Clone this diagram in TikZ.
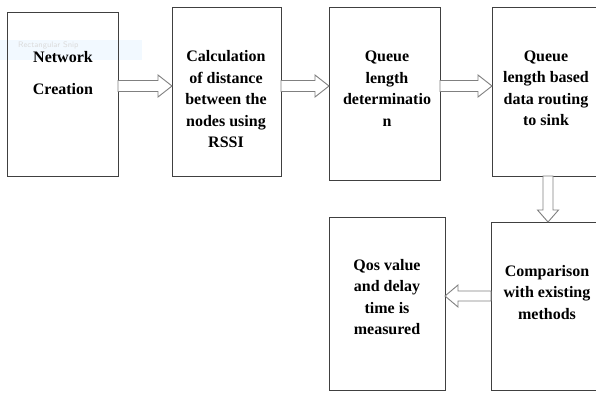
\documentclass[tikz,border=0pt]{standalone}
\usepackage{fontspec}
\setmainfont{Liberation Serif}
\usetikzlibrary{calc}
\begin{document}
\begin{tikzpicture}[x=1pt,y=-1pt,
  stagebox/.style={draw=black!75,line width=0.9pt,fill=none},
  stagetext/.style={align=center,font=\bfseries\fontsize{16}{21.5}\selectfont,text=black},
  flowarrow/.style={draw=black!50,line width=0.9pt,fill=white,line join=miter}]
\useasboundingbox (0,0) rectangle (596,392);
\fill[white] (0,0) rectangle (596,392);

% faint selection strip behind the first box
\fill[blue!40!cyan,opacity=0.05] (0,40) rectangle (142,60);
\node[font=\sffamily\fontsize{8}{9}\selectfont,text=black!14,anchor=west,inner sep=0pt] (snip) at (18,45) {Rectangular Snip};

% stage boxes
\draw[stagebox] (7,12) rectangle (118,176);
\coordinate (b1e) at (118,94);
\draw[stagebox] (172,7) rectangle (281,176);
\coordinate (b2w) at (172,94);
\coordinate (b2e) at (281,94);
\draw[stagebox] (329,7) rectangle (440,180);
\coordinate (b3w) at (329,94);
\coordinate (b3e) at (440,94);
\draw[stagebox] (492,7) rectangle (598,176);
\coordinate (b4w) at (492,94);
\coordinate (b4s) at (548,176);
\draw[stagebox] (491,222) rectangle (598,390);
\coordinate (b5n) at (548,222);
\coordinate (b5w) at (491,296);
\draw[stagebox] (329,217) rectangle (445,390);
\coordinate (b6e) at (445,296);

% stage labels
\node[stagetext] (t1) at (63,73) {Network\\[10pt]Creation};
\node[stagetext] (t2) at (226,99.5) {Calculation\\of distance\\between the\\nodes using\\RSSI};
\node[stagetext] (t3) at (387,88.5) {Queue\\length\\determinatio\\n};
\node[stagetext] (t4) at (546,88.5) {Queue\\length based\\data routing\\to sink};
\node[stagetext] (t5) at (547,292.5) {Comparison\\with existing\\methods};
\node[stagetext] (t6) at (387,297) {Qos value\\and delay\\time is\\measured};

% arrow heights
\coordinate (ya) at (0,86);

% block arrows between stages
\newcommand\blockright[2]{%
  \draw[flowarrow] let \p1=(#1), \p2=(#2), \p3=(ya) in
    (\x1,\y3+5.5pt) -- (\x2-14pt,\y3+5.5pt) -- (\x2-14pt,\y3+11pt) -- (\x2,\y3)
    -- (\x2-14pt,\y3-11pt) -- (\x2-14pt,\y3-5.5pt) -- (\x1,\y3-5.5pt) -- cycle;}
\blockright{b1e}{b2w}
\blockright{b2e}{b3w}
\blockright{b3e}{b4w}

\draw[flowarrow] let \p1=(b4s), \p2=(b5n) in
  (\x1-5pt,\y1) -- (\x1-5pt,\y2+12pt) -- (\x1-10.5pt,\y2+12pt) -- (\x1,\y2)
  -- (\x1+10.5pt,\y2+12pt) -- (\x1+5pt,\y2+12pt) -- (\x1+5pt,\y1) -- cycle;

\draw[flowarrow] let \p1=(b5w), \p2=(b6e) in
  (\x1,\y1+5pt) -- (\x2+13pt,\y1+5pt) -- (\x2+13pt,\y1+11pt) -- (\x2,\y1)
  -- (\x2+13pt,\y1-11pt) -- (\x2+13pt,\y1-5pt) -- (\x1,\y1-5pt) -- cycle;
\end{tikzpicture}
\end{document}
